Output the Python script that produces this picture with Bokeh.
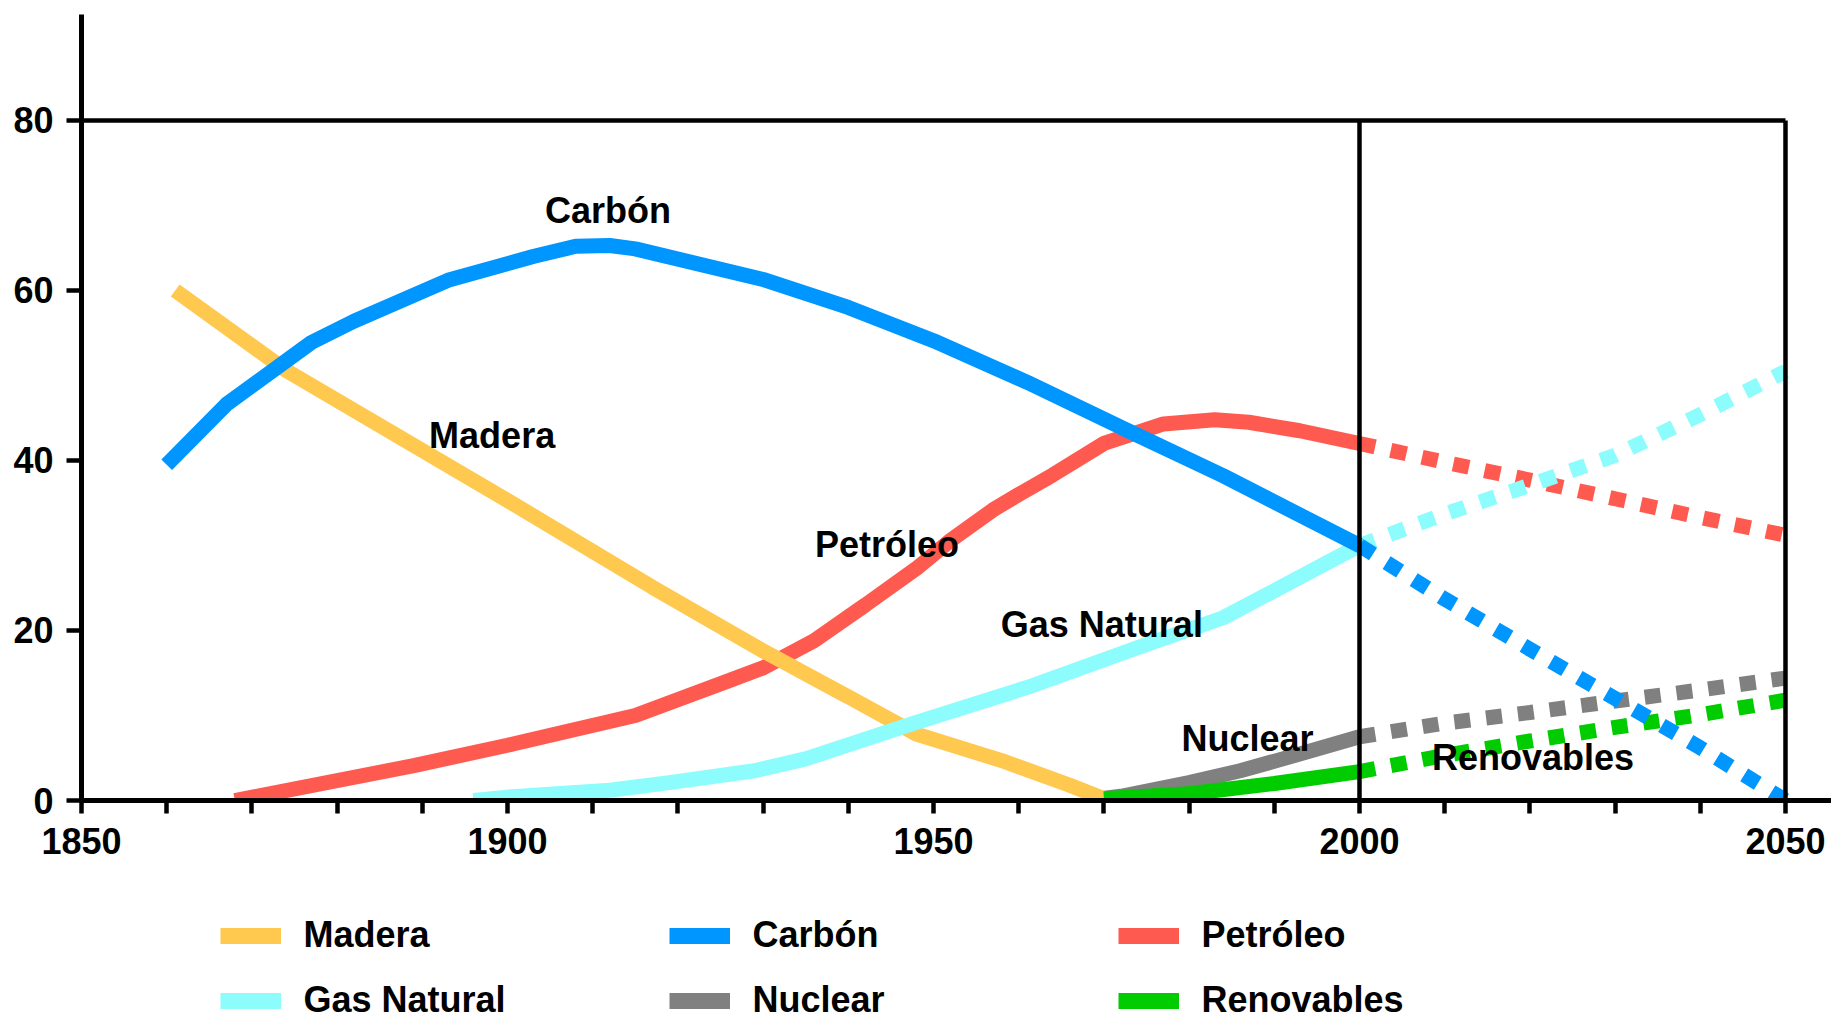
from bokeh.plotting import figure
from bokeh.layouts import column
from bokeh.models import Range1d, FixedTicker, Legend, LegendItem
from bokeh.core.properties import value
from bokeh.embed import file_html
from bokeh.resources import INLINE

# ---------------- data ----------------
names = ["Madera", "Carbón", "Petróleo", "Gas Natural", "Nuclear", "Renovables"]
colors = ["#FFC84F", "#0096FF", "#FF5A50", "#8CFCFC", "#808080", "#00CC00"]

madera_years = [1861, 1874, 1900, 1917, 1930, 1940, 1948, 1958, 1966, 1970]
madera_vals = [60.0, 50.6, 35.3, 25.1, 17.6, 12.2, 7.8, 4.7, 1.8, 0.2]

carbon_years = [1860, 1867, 1877, 1882, 1893, 1903, 1908, 1912, 1915, 1930, 1940,
                1950, 1961, 1972, 1984, 2000]
carbon_vals = [39.5, 46.6, 53.9, 56.4, 61.2, 64.0, 65.2, 65.3, 64.9, 61.3, 58.0,
               54.1, 49.2, 43.9, 38.2, 30.0]

petroleo_years = [1868, 1889, 1900, 1915, 1926, 1930, 1936, 1942, 1948, 1952, 1957,
                  1960, 1964, 1970, 1977, 1983, 1987, 1993, 2000]
petroleo_vals = [0.0, 4.1, 6.5, 10.0, 14.1, 15.6, 18.8, 23.0, 27.3, 30.6, 34.2,
                 36.0, 38.3, 42.0, 44.3, 44.8, 44.5, 43.5, 42.0]

gas_years = [1896, 1900, 1912, 1919, 1929, 1935, 1948, 1961, 1974, 1984, 2000]
gas_vals = [0.0, 0.4, 1.2, 2.1, 3.5, 4.9, 9.2, 13.3, 18.0, 21.5, 30.0]

nuclear_years = [1968, 1972, 1980, 1986, 1991, 2000]
nuclear_vals = [0.0, 0.5, 2.1, 3.5, 4.9, 7.5]

renov_years = [1970, 1980, 1990, 2000]
renov_vals = [0.2, 0.8, 2.0, 3.4]

proj_years = [2000, 2010, 2020, 2030, 2040, 2050]
carbon_proj = [30.0, 23.7, 17.8, 12.0, 6.2, 0.0]
petroleo_proj = [42.0, 39.8, 37.7, 35.5, 33.3, 31.2]
gas_proj = [30.0, 33.7, 37.1, 40.6, 45.4, 50.5]
nuclear_proj = [7.5, 9.1, 10.35, 11.7, 13.0, 14.4]
renov_proj = [3.4, 5.3, 7.0, 8.6, 10.1, 11.8]

x_ticks = [1850, 1900, 1950, 2000, 2050]
x_minor = [1860, 1870, 1880, 1890, 1910, 1920, 1930, 1940, 1960, 1970, 1980, 1990,
           2010, 2020, 2030, 2040]
y_ticks = [0, 20, 40, 60, 80]

# in-plot labels (left x in years, vertical centre in %)
label_x = [1890.8, 1904.4, 1936.1, 1957.9, 1979.1, 2008.5]
label_y = [42.9, 69.45, 30.1, 20.7, 7.25, 5.1]

# ---------------- main figure ----------------
FONT = "Liberation Sans"
W = 1831
H_MAIN = 880
H_LEG = 141
LEFT = 81

p = figure(width=W, height=H_MAIN, output_backend="svg", toolbar_location=None,
           x_range=Range1d(1850, 2055.4), y_range=Range1d(0, 92.47),
           min_border_left=LEFT, min_border_right=0, min_border_top=14,
           min_border_bottom=80)
p.outline_line_color = None
p.xgrid.visible = False
p.ygrid.visible = False

for ax in (p.xaxis[0], p.yaxis[0]):
    ax.axis_line_width = 5
    ax.axis_line_color = "black"
    ax.major_tick_line_width = 4.5
    ax.major_tick_line_color = "black"
    ax.minor_tick_line_width = 4.5
    ax.minor_tick_line_color = "black"
    ax.major_tick_in = 0
    ax.minor_tick_in = 0
    ax.major_label_text_font = FONT
    ax.major_label_text_font_style = "bold"
    ax.major_label_text_font_size = "36px"
    ax.major_label_text_color = "black"

p.xaxis[0].ticker = FixedTicker(ticks=x_ticks, minor_ticks=x_minor)
p.xaxis[0].major_tick_out = 13
p.xaxis[0].minor_tick_out = 13
p.xaxis[0].major_label_standoff = 14
p.yaxis[0].ticker = FixedTicker(ticks=y_ticks, minor_ticks=[])
p.yaxis[0].major_tick_out = 15
p.yaxis[0].minor_tick_out = 0
p.yaxis[0].major_label_standoff = 13

LW = 15
DASH = "16 16"

p.line(petroleo_years, petroleo_vals, line_color=colors[2], line_width=LW)
p.line(proj_years, petroleo_proj, line_color=colors[2], line_width=LW, line_dash=DASH)
p.line(nuclear_years, nuclear_vals, line_color=colors[4], line_width=LW)
p.line(proj_years, nuclear_proj, line_color=colors[4], line_width=LW, line_dash=DASH)
p.line(madera_years, madera_vals, line_color=colors[0], line_width=LW)
p.line(gas_years, gas_vals, line_color=colors[3], line_width=LW)
p.line(proj_years, gas_proj, line_color=colors[3], line_width=LW, line_dash=DASH)
p.line(renov_years, renov_vals, line_color=colors[5], line_width=LW)
p.line(proj_years, renov_proj, line_color=colors[5], line_width=LW, line_dash=DASH)
p.line(carbon_years, carbon_vals, line_color=colors[1], line_width=LW)
p.line(proj_years, carbon_proj, line_color=colors[1], line_width=LW, line_dash=DASH)

# black frame lines (80 line and vertical lines at 2000 and 2050)
p.segment(x0=[x_ticks[0], x_ticks[3], x_ticks[4]], y0=[y_ticks[4], 0, 0],
          x1=[x_ticks[4], x_ticks[3], x_ticks[4]], y1=[y_ticks[4], y_ticks[4], y_ticks[4]],
          line_color="black", line_width=4.5)

p.text(x=label_x, y=label_y, text=names, text_font=value(FONT),
       text_font_style="bold", text_font_size="36px", text_color="black",
       text_baseline="middle", text_align="left")

# ---------------- legend strip ----------------
p2 = figure(width=W, height=H_LEG, output_backend="svg", toolbar_location=None,
            x_range=Range1d(0, W), y_range=Range1d(0, H_LEG),
            x_axis_type=None, y_axis_type=None,
            min_border_left=0, min_border_right=0, min_border_top=0, min_border_bottom=0)
p2.outline_line_color = None
p2.xgrid.visible = False
p2.ygrid.visible = False

items = []
for n, c in zip(names, colors):
    # swatch renderers: kept off-screen, only their legend glyphs are shown
    r = p2.line(x=[-100, -90], y=[-100, -100], line_color=c, line_width=16)
    items.append(LegendItem(label=n, renderers=[r]))

legend = Legend(items=items, location=(219.5 - LEFT, -11.5), orientation="horizontal",
                ncols=3, glyph_width=61, glyph_height=65, label_height=65,
                label_width=365, label_standoff=23, spacing=0, padding=0, margin=0,
                border_line_color=None, background_fill_alpha=0,
                label_text_font=FONT, label_text_font_style="bold",
                label_text_font_size="36px", label_text_color="black")
p2.add_layout(legend, "center")

layout = column(p, p2, spacing=0)
open("out.html", "w").write(file_html(layout, INLINE))
